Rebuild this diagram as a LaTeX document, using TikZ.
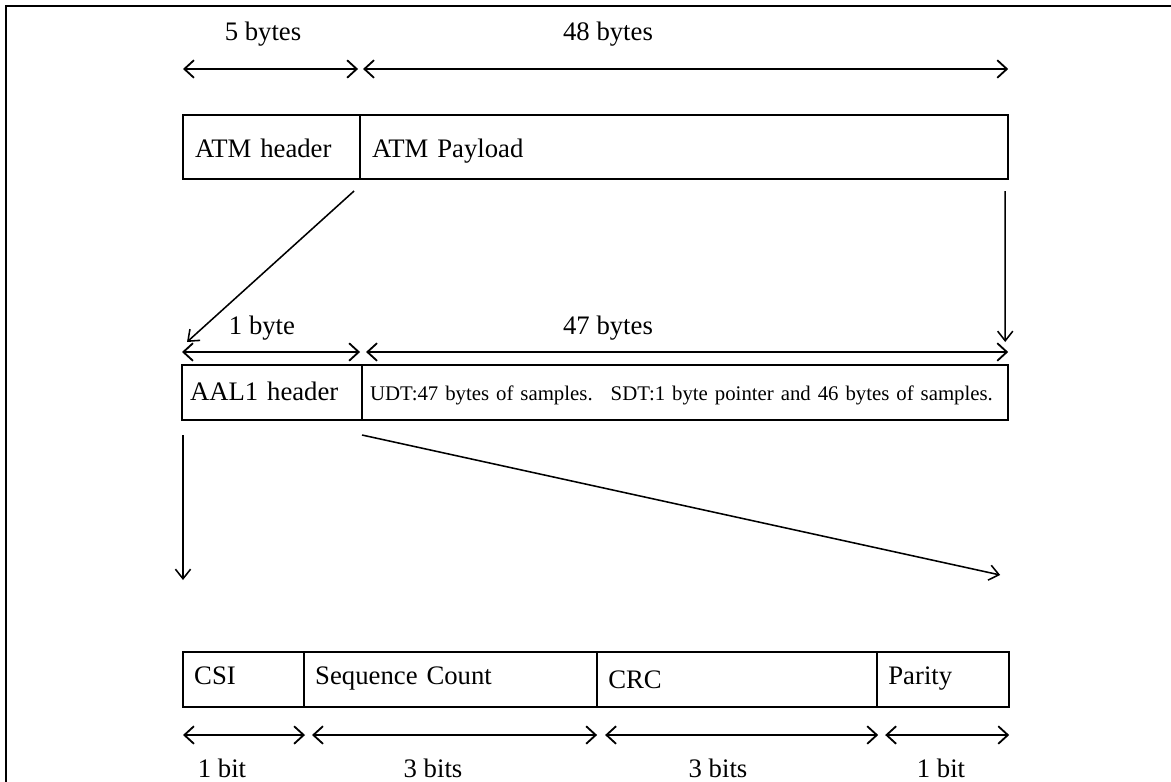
\documentclass[tikz,border=0pt]{standalone}
\usepackage{fontspec}
\setmainfont{Liberation Serif}
\usetikzlibrary{arrows.meta,positioning,calc}

\begin{document}
\begin{tikzpicture}[
        x=0.025cm, y=-0.025cm,
        field/.style={draw, line width=1.4pt, outer sep=0pt, inner ysep=0pt, align=left, anchor=north west, font=\fontsize{19pt}{22pt}\selectfont},
        hdrrow/.style={minimum height=1.6cm, inner xsep=0.3cm, text height=17pt, text depth=1.4pt},
        aalrow/.style={minimum height=1.375cm, inner xsep=0.2cm, text height=14pt, text depth=3.3pt},
        bitrow/.style={minimum height=1.375cm, inner xsep=0.28cm, text height=12pt, text depth=5.6pt},
        dim/.style={{Straight Barb[length=2.4mm,width=4.4mm]}-{Straight Barb[length=2.4mm,width=4.4mm]}, line width=1.3pt},
        map/.style={-{Straight Barb[length=2.4mm,width=3.8mm]}, line width=1.1pt},
        size/.style={font=\fontsize{19pt}{22pt}\selectfont, inner sep=0pt}
    ]
        \useasboundingbox (0,0) rectangle (1171,782);
        \draw[line width=1.4pt] (6,782) -- (6,6) -- (1171,6);

        % ATM cell
        \node[field, hdrrow, text width=3.825cm] (atmhdr) at (183,115) {ATM header};
        \node[field, hdrrow, text width=15.6cm, right=0pt of atmhdr] (atmpay) {ATM Payload};
        \draw[dim] ($(atmhdr.north west)+(0,-46)$) -- ($(atmhdr.north east)+(-2,-46)$);
        \draw[dim] ($(atmpay.north west)+(3,-46)$) -- ($(atmpay.north east)+(0,-46)$);
        \node[size] (hdrsize) at (263,34) {5 bytes};
        \node[size] (paysize) at (608,34) {48 bytes};

        % AAL1 PDU
        \node[field, aalrow, text width=4.1cm] (aalhdr) at (182,365) {AAL1 header};
        \node[field, aalrow, text width=15.75cm, right=0pt of aalhdr, font=\fontsize{14.8pt}{17pt}\selectfont] (aalpay) {UDT:47 bytes of samples.\hspace{0.45cm}SDT:1 byte pointer and 46 bytes of samples.};
        \draw[dim] ($(aalhdr.north west)+(0,-13)$) -- ($(aalhdr.north east)+(-2,-13)$);
        \draw[dim] ($(aalpay.north west)+(4,-13)$) -- ($(aalpay.north east)+(0,-13)$);
        \node[size] (aalhsize) at (262,328) {1 byte};
        \node[size] (aalpsize) at (608,328) {47 bytes};
        \draw[map] ($(atmhdr.south east)+(-6,12)$) -- ($(aalhdr.north west)+(5,-23)$);
        \draw[map] ($(atmpay.south east)+(-3,12)$) -- ($(aalpay.north east)+(-3,-23)$);

        % AAL1 header fields
        \node[field, bitrow, text width=2.465cm] (csi) at (183,652) {CSI};
        \node[field, bitrow, text width=6.765cm, right=0pt of csi] (seqcnt) {Sequence Count};
        \node[field, bitrow, text width=6.44cm, right=0pt of seqcnt] (crc) {\raisebox{-3pt}{CRC}};
        \node[field, bitrow, text width=2.74cm, right=0pt of crc] (parity) {Parity};
        \draw[dim] ($(csi.south west)+(0,28)$) -- ($(csi.south east)+(1,28)$);
        \draw[dim] ($(seqcnt.south west)+(8,28)$) -- ($(seqcnt.south east)+(0,28)$);
        \draw[dim] ($(crc.south west)+(8,28)$) -- ($(crc.south east)+(1,28)$);
        \draw[dim] ($(parity.south west)+(8,28)$) -- ($(parity.south east)+(0,28)$);
        \node[size] (csisize) at (222,768) {1 bit};
        \node[size] (seqsize) at (433,768) {3 bits};
        \node[size] (crcsize) at (718,768) {3 bits};
        \node[size] (parsize) at (941,768) {1 bit};
        \draw[map] ($(aalhdr.south west)+(1,15)$) -- ($(csi.north west)+(0,-72)$);
        \draw[map] ($(aalhdr.south east)+(0,15)$) -- ($(parity.north east)+(-9,-77)$);
    \end{tikzpicture}
\end{document}
